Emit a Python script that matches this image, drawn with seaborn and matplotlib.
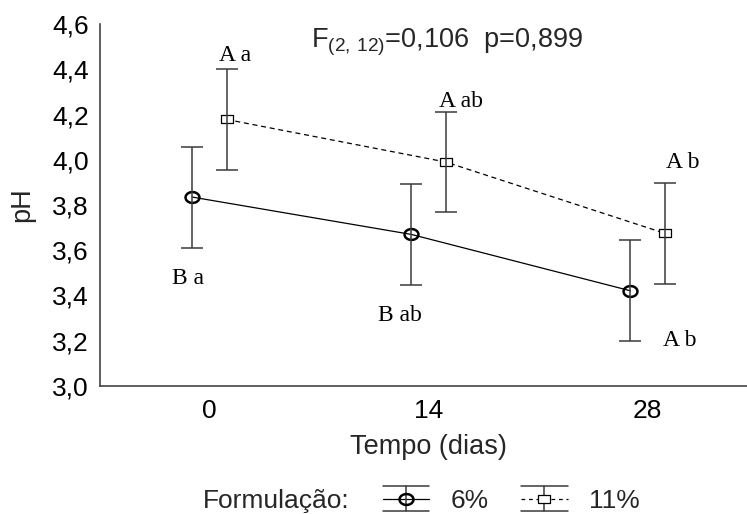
import numpy as np
import pandas as pd
import seaborn as sns
import matplotlib
matplotlib.use("Agg")
import matplotlib.pyplot as plt
from matplotlib.lines import Line2D
from matplotlib.path import Path
from matplotlib.legend_handler import HandlerBase

# ---- data ----
tempo = [0, 14, 28]
tick_labels_x = ["0", "14", "28"]
ph_6 = [3.835, 3.670, 3.421]
err_6 = [0.223, 0.223, 0.223]
ph_11 = [4.178, 3.990, 3.675]
err_11 = [0.222, 0.221, 0.223]
labels_6 = ["B a", "B ab", "A b"]
labels_11 = ["A a", "A ab", "A b"]
yticks = [3.0, 3.2, 3.4, 3.6, 3.8, 4.0, 4.2, 4.4, 4.6]
ytick_labels = ["3,0", "3,2", "3,4", "3,6", "3,8", "4,0", "4,2", "4,4", "4,6"]
series_names = ["6%", "11%"]

sns.set_style("white")
plt.rcParams['font.family'] = ['Liberation Sans', 'DejaVu Sans']
plt.rcParams['mathtext.fontset'] = 'custom'
plt.rcParams['mathtext.rm'] = 'Liberation Sans'

# horizontally stretched marker shapes (the reference is slightly wide)
theta = np.linspace(0, 2 * np.pi, 60)
ellipse = Path(np.column_stack([1.28 * np.cos(theta), np.sin(theta)]), closed=True)
rect = Path([(-1.28, -1), (1.28, -1), (1.28, 1), (-1.28, 1), (-1.28, -1)], closed=True)

offset = 1.1
df = pd.DataFrame({
    "x": [t - offset for t in tempo] + [t + offset for t in tempo],
    "pH": ph_6 + ph_11,
    "Formulação": [series_names[0]] * 3 + [series_names[1]] * 3,
})

fig = plt.figure(figsize=(7.47, 5.14), dpi=100)
ax = fig.add_axes([100 / 747, 1 - 386 / 514, 657 / 747, 362 / 514])

sns.lineplot(data=df, x="x", y="pH", hue="Formulação", style="Formulação",
             palette=["black", "black"], dashes={"6%": "", "11%": (4, 3)},
             markers=False, linewidth=0.9, legend=False, ax=ax, sort=False)

x6 = np.array(tempo) - offset
x11 = np.array(tempo) + offset
ecol = '#3a3a3a'
ax.errorbar(x6, ph_6, yerr=err_6, fmt='none', ecolor=ecol,
            elinewidth=1.1, capsize=8, capthick=1.1, zorder=3)
ax.errorbar(x11, ph_11, yerr=err_11, fmt='none', ecolor=ecol,
            elinewidth=1.1, capsize=8, capthick=1.1, zorder=3)
ax.plot(x6, ph_6, linestyle='none', marker=ellipse, markersize=10, markerfacecolor='none',
        markeredgecolor='black', markeredgewidth=1.8, zorder=2.5)
ax.plot(x11, ph_11, linestyle='none', marker=rect, markersize=8, markerfacecolor='white',
        markeredgecolor='black', markeredgewidth=0.9, zorder=2.5)

# letter annotations
serif = dict(family=['Liberation Serif', 'DejaVu Serif'], fontsize=17, color='black')
pos6 = [(-2.37, 3.473), (10.8, 3.31), (28.96, 3.203)]
pos11 = [(0.58, 4.46), (14.64, 4.257), (29.2, 3.986)]
for (px, py), lab in zip(pos6, labels_6):
    ax.text(px, py, lab, ha='left', va='center', **serif)
for (px, py), lab in zip(pos11, labels_11):
    ax.text(px, py, lab, ha='left', va='center', **serif)

ax.text(6.52, 4.494, r'F$_\mathregular{(2,\,12)}$=0,106  p=0,899', fontsize=19.5,
        ha='left', va='baseline')

ax.set_xlim(-7, 35)
ax.set_ylim(3.0, 4.6)
ax.set_xticks(tempo)
ax.set_xticklabels(tick_labels_x, fontsize=19)
ax.set_yticks(yticks)
ax.set_yticklabels(ytick_labels, fontsize=19)
ax.tick_params(axis='y', direction='out', length=4, width=1, pad=4, colors='black')
ax.tick_params(axis='x', direction='in', length=3, width=1, pad=9, colors='black')
for t in ax.get_xticklines() + ax.get_yticklines():
    t.set_color('#444444')
ax.set_xlabel("Tempo (dias)", fontsize=19.5, labelpad=8)
ax.set_ylabel("pH", fontsize=19.5, labelpad=12)
for s in ['top', 'right']:
    ax.spines[s].set_visible(False)
for s in ['left', 'bottom']:
    ax.spines[s].set_color('#444444')
    ax.spines[s].set_linewidth(1.2)


class HandlerErrLine(HandlerBase):
    def create_artists(self, legend, orig_handle, xdescent, ydescent, width, height,
                       fontsize, trans):
        yc = height / 2 - ydescent
        x0, x1 = -xdescent, -xdescent + width
        xm = (x0 + x1) / 2
        h = 9.0
        arts = []
        mid = Line2D([x0, x1], [yc, yc], color='black', linewidth=0.9,
                     linestyle=orig_handle.get_linestyle())
        if orig_handle.get_linestyle() == '--':
            mid.set_dashes((3, 3))
        arts.append(mid)
        for yy in (yc - h, yc + h):
            arts.append(Line2D([x0, x1], [yy, yy], color=ecol, linewidth=1.1))
        arts.append(Line2D([xm, xm], [yc - h, yc + h], color=ecol, linewidth=1.1))
        mk = Line2D([xm], [yc], linestyle='none', marker=orig_handle.get_marker(),
                    markersize=orig_handle.get_markersize(),
                    markerfacecolor=orig_handle.get_markerfacecolor(),
                    markeredgecolor='black',
                    markeredgewidth=orig_handle.get_markeredgewidth())
        arts.append(mk)
        for a in arts:
            a.set_transform(trans)
        return arts


h6 = Line2D([], [], linestyle='-', marker=ellipse, markersize=10,
            markerfacecolor='none', markeredgewidth=1.8)
h11 = Line2D([], [], linestyle='--', marker=rect, markersize=8,
             markerfacecolor='white', markeredgewidth=0.9)

fig.text(203 / 747, 1 - 501 / 514, "Formulação:", fontsize=19, ha='left', va='center')
fig.legend([h6, h11], series_names, loc='center left',
           bbox_to_anchor=(383 / 747, 1 - 501 / 514), ncol=2, frameon=False,
           fontsize=19, handlelength=1.75, columnspacing=1.25, handletextpad=0.8,
           borderaxespad=0, borderpad=0,
           handler_map={Line2D: HandlerErrLine()})

fig.savefig("out.png", dpi=100)
